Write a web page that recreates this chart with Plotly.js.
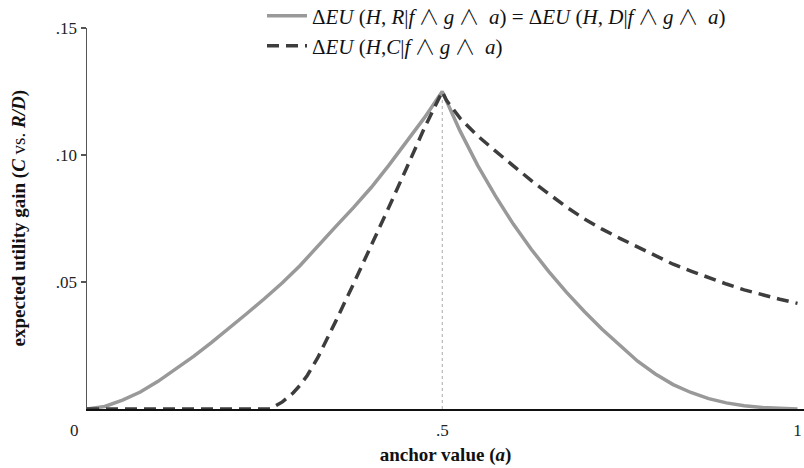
<!DOCTYPE html>
<html>
<head>
<meta charset="utf-8">
<script src="https://cdn.plot.ly/plotly-3.0.1.min.js"></script>
<style>html,body{margin:0;padding:0;background:#fff;}#chart{width:804px;height:468px;}</style>
</head>
<body>
<div id="chart"></div>
<script>
// anchor values (a) and series
const aSolid = [0,0.025,0.05,0.075,0.1,0.125,0.15,0.175,0.2,0.225,0.25,0.275,0.3,0.325,0.35,0.375,0.4,0.425,0.45,0.475,0.5,
                0.525,0.55,0.575,0.6,0.625,0.65,0.675,0.7,0.725,0.75,0.775,0.8,0.825,0.85,0.875,0.9,0.925,0.95,0.975,1];
const euRD = [0,0.001,0.0035,0.0067,0.0109,0.0157,0.0207,0.0261,0.0317,0.0376,0.0435,0.0497,0.0565,0.0643,0.0718,0.0793,0.0872,0.096,0.1053,0.1147,0.125,
              0.1095,0.0958,0.0838,0.0728,0.063,0.0541,0.0459,0.0384,0.0314,0.0251,0.0188,0.0138,0.0096,0.0065,0.0041,0.0024,0.0013,0.0006,0.0002,0];
const aDashed = [0,0.05,0.1,0.15,0.2,0.25,0.258,0.275,0.29,0.3,0.31,0.325,0.34,0.35,0.375,0.4,0.425,0.45,0.475,0.5,
                 0.506,0.525,0.55,0.575,0.6,0.625,0.65,0.675,0.7,0.725,0.75,0.775,0.8,0.825,0.85,0.875,0.9,0.925,0.95,0.975,1];
const euC = [0,0,0,0,0,0,0,0.0028,0.0063,0.0094,0.0132,0.0203,0.0287,0.0345,0.0492,0.0641,0.0795,0.095,0.1107,0.125,
             0.1215,0.1145,0.1075,0.1015,0.0957,0.09,0.0847,0.0795,0.0748,0.0708,0.0672,0.0637,0.0604,0.057,0.0543,0.0517,0.0492,0.0469,0.045,0.0432,0.0416];
const xTickVals = [0,0.5,1];
const xTickText = ["0\u2003\u2002", ".5", "1"];
const yTickVals = [0.05,0.10,0.15];
const yTickText = [".05", ".10", ".15"];
const yTitle = 'expected utility gain (<i>C</i> <span style="font-weight:normal">vs.</span> <i>R/D</i>)';
const xTitle = 'anchor value (<i>a</i>)';
const AND = '\u2009<span style="font-family:\'Noto Sans CJK JP\';font-weight:300">\u2227</span>\u2009';
const legendRD = "\u0394<i>EU</i> (<i>H</i>, <i>R</i>|<i>f</i>" + AND + "<i>g</i>" + AND + " <i>a</i>) = \u0394<i>EU</i> (<i>H</i>, <i>D</i>|<i>f</i>" + AND + "<i>g</i>" + AND + " <i>a</i>)";
const legendC = "\u0394<i>EU</i> (<i>H</i>,<i>C</i>|<i>f</i>" + AND + "<i>g</i>" + AND + " <i>a</i>)";

const serif = "Liberation Serif, Times New Roman, serif";
// peak location for reference line
let iMax = 0; for (let i=0;i<euRD.length;i++) if (euRD[i] > euRD[iMax]) iMax = i;

const traces = [
  {x: aSolid, y: euRD, type: 'scatter', mode: 'lines', name: legendRD, legend: 'legend',
   line: {color: '#999999', width: 3.5}},
  {x: aDashed, y: euC, type: 'scatter', mode: 'lines', name: legendC, legend: 'legend2',
   line: {color: '#3d3d3d', width: 3.5, dash: '12px,7px'}}
];

const legendBase = {xref: 'container', yref: 'container', x: 262/804, xanchor: 'left', yanchor: 'middle',
           itemwidth: 40, bgcolor: 'rgba(0,0,0,0)', font: {family: serif, size: 21, color: '#111'}};

const layout = {
  width: 804, height: 468,
  margin: {l: 87, r: 0, t: 28, b: 59, autoexpand: false},
  paper_bgcolor: '#fff', plot_bgcolor: '#fff',
  showlegend: true,
  legend: Object.assign({}, legendBase, {y: 1 - 16/468}),
  legend2: Object.assign({}, legendBase, {y: 1 - 46/468}),
  xaxis: {range: [0, 717/710.5], tickvals: xTickVals, ticktext: xTickText, showgrid: false, zeroline: false,
          showline: true, linecolor: '#111', linewidth: 1.5, ticks: '', ticklabelstandoff: 5,
          tickfont: {family: serif, size: 17, color: '#222'},
          title: {text: xTitle, font: {family: serif, size: 19, color: '#111', weight: 'bold'}, standoff: 9}},
  yaxis: {range: [0, 0.15], tickvals: yTickVals, ticktext: yTickText, showgrid: false, zeroline: false,
          showline: true, linecolor: '#555', linewidth: 1.5, ticks: 'outside', ticklen: 5, tickcolor: '#555', tickwidth: 1.5,
          tickfont: {family: serif, size: 17, color: '#222'}},
  annotations: [{text: yTitle, xref: 'paper', yref: 'paper', x: (18 - 87) / 717, y: 0.5, xanchor: 'center', yanchor: 'middle',
                 textangle: -90, showarrow: false, font: {family: serif, size: 19, color: '#111', weight: 'bold'}}],
  shapes: [{type: 'line', xref: 'x', yref: 'y', x0: aSolid[iMax], x1: aSolid[iMax], y0: 0, y1: euRD[iMax],
            line: {color: '#aaaaaa', width: 1, dash: 'dot'}, layer: 'below'}]
};

Plotly.newPlot('chart', traces, layout, {staticPlot: true, displayModeBar: false});
</script>
</body>
</html>
